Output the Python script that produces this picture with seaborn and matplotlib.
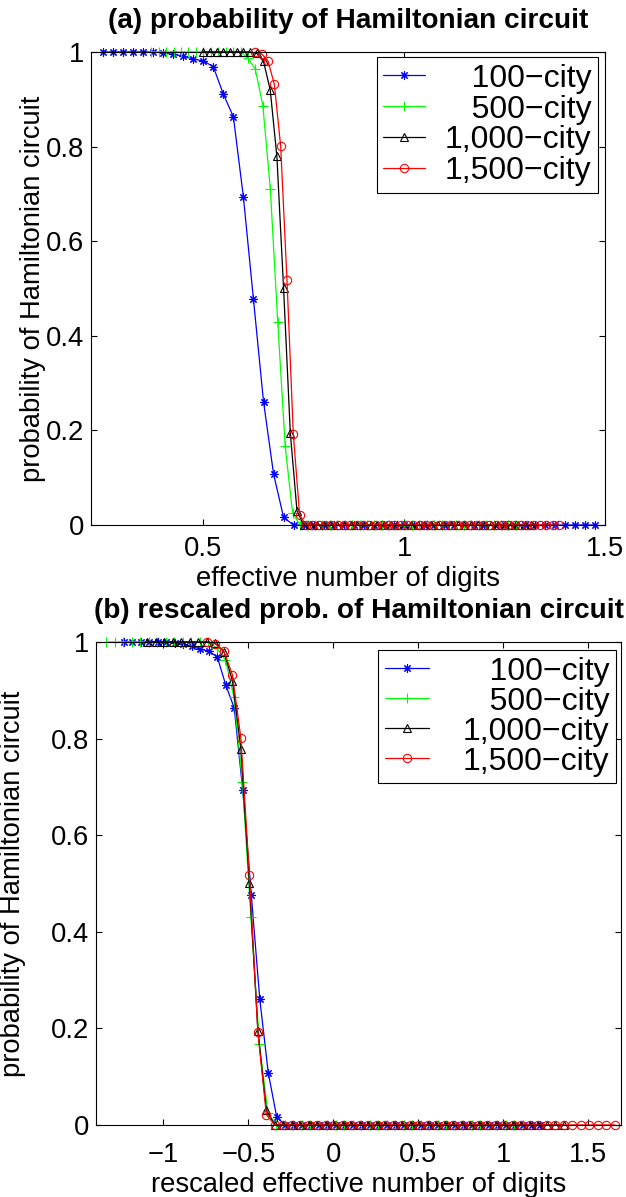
import matplotlib
matplotlib.use('Agg')
import matplotlib.pyplot as plt
import seaborn as sns

# ---- data ----
# 100-city
x100_a = [0.25, 0.275, 0.3, 0.325, 0.35, 0.375, 0.4, 0.425, 0.45, 0.475,
          0.5, 0.525, 0.55, 0.575, 0.6, 0.625, 0.65, 0.675, 0.7, 0.725,
          0.75, 0.775, 0.8, 0.825, 0.85, 0.875, 0.9, 0.925, 0.95, 0.975,
          1.0, 1.025, 1.05, 1.075, 1.1, 1.125, 1.15, 1.175, 1.2, 1.225,
          1.25, 1.275, 1.3, 1.325, 1.35, 1.375, 1.4, 1.425, 1.45, 1.475]
x100_b = [-1.233, -1.183, -1.133, -1.083, -1.033, -0.983, -0.933, -0.883, -0.833, -0.783,
          -0.733, -0.683, -0.633, -0.583, -0.533, -0.483, -0.433, -0.383, -0.333, -0.283,
          -0.233, -0.183, -0.133, -0.083, -0.033, 0.017, 0.067, 0.117, 0.167, 0.217,
          0.267, 0.317, 0.367, 0.417, 0.467, 0.517, 0.567, 0.617, 0.667, 0.717,
          0.767, 0.817, 0.867, 0.917, 0.967, 1.017, 1.067, 1.117, 1.167, 1.217]
p100 = ([1.0] * 6
        + [0.998, 0.995, 0.991, 0.985, 0.981, 0.969, 0.911, 0.863, 0.693,
           0.477, 0.261, 0.108, 0.016]
        + [0.0] * 31)

# 500-city
x500_a = [0.3705, 0.3890, 0.4076, 0.4261, 0.4446, 0.4631, 0.4817, 0.5002, 0.5187, 0.5372,
          0.5558, 0.5743, 0.5928, 0.6113, 0.6298, 0.6484, 0.6669, 0.6854, 0.7039, 0.7225,
          0.7410, 0.7595, 0.7780, 0.7966, 0.8151, 0.8336, 0.8521, 0.8707, 0.8892, 0.9077,
          0.9262, 0.9448, 0.9633, 0.9818, 1.0003, 1.0189, 1.0374, 1.0559, 1.0744, 1.0930,
          1.1115, 1.1300, 1.1485, 1.1671, 1.1856, 1.2041, 1.2226, 1.2412, 1.2597, 1.2782]
x500_b = [-1.335, -1.285, -1.235, -1.185, -1.135, -1.085, -1.035, -0.985, -0.935, -0.885,
          -0.835, -0.785, -0.735, -0.685, -0.635, -0.585, -0.535, -0.485, -0.435, -0.385,
          -0.335, -0.285, -0.235, -0.185, -0.135, -0.085, -0.035, 0.015, 0.065, 0.115,
          0.165, 0.215, 0.265, 0.315, 0.365, 0.415, 0.465, 0.515, 0.565, 0.615,
          0.665, 0.715, 0.765, 0.815, 0.865, 0.915, 0.965, 1.015, 1.065, 1.115]
p500 = ([1.0] * 13
        + [0.987, 0.963, 0.886, 0.711, 0.430, 0.167, 0.025]
        + [0.0] * 30)

# 1,000-city
x1000_a = [0.5, 0.5167, 0.5333, 0.55, 0.5667, 0.5833, 0.6, 0.6167, 0.6333, 0.65,
           0.6667, 0.6833, 0.7, 0.7167, 0.7333, 0.75, 0.7667, 0.7833, 0.8, 0.8167,
           0.8333, 0.85, 0.8667, 0.8833, 0.9, 0.9167, 0.9333, 0.95, 0.9667, 0.9833,
           1.0, 1.0167, 1.0333, 1.05, 1.0667, 1.0833, 1.1, 1.1167, 1.1333, 1.15,
           1.1667, 1.1833, 1.2, 1.2167, 1.2333, 1.25, 1.2667, 1.2833, 1.3, 1.3167]
x1000_b = [-1.094, -1.044, -0.994, -0.944, -0.894, -0.844, -0.794, -0.744, -0.694, -0.644,
           -0.594, -0.544, -0.494, -0.444, -0.394, -0.344, -0.294, -0.244, -0.194, -0.144,
           -0.094, -0.044, 0.006, 0.056, 0.106, 0.156, 0.206, 0.256, 0.306, 0.356,
           0.406, 0.456, 0.506, 0.556, 0.606, 0.656, 0.706, 0.756, 0.806, 0.856,
           0.906, 0.956, 1.006, 1.056, 1.106, 1.156, 1.206, 1.256, 1.306, 1.356]
p1000 = ([1.0] * 8
         + [0.997, 0.980, 0.920, 0.779, 0.500, 0.195, 0.030]
         + [0.0] * 35)

# 1,500-city
x1500_a = [0.6297, 0.6454, 0.6612, 0.6769, 0.6927, 0.7084, 0.7242, 0.7399, 0.7556, 0.7714,
           0.7871, 0.8029, 0.8186, 0.8344, 0.8501, 0.8658, 0.8816, 0.8973, 0.9131, 0.9288,
           0.9446, 0.9603, 0.9760, 0.9918, 1.0075, 1.0233, 1.0390, 1.0548, 1.0705, 1.0862,
           1.1020, 1.1177, 1.1335, 1.1492, 1.1650, 1.1807, 1.1964, 1.2122, 1.2279, 1.2437,
           1.2594, 1.2752, 1.2909, 1.3066, 1.3224, 1.3381, 1.3539, 1.3696, 1.3854]
x1500_b = [-0.744, -0.694, -0.644, -0.594, -0.544, -0.494, -0.444, -0.394, -0.344, -0.294,
           -0.244, -0.194, -0.144, -0.094, -0.044, 0.006, 0.056, 0.106, 0.156, 0.206,
           0.256, 0.306, 0.356, 0.406, 0.456, 0.506, 0.556, 0.606, 0.656, 0.706,
           0.756, 0.806, 0.856, 0.906, 0.956, 1.006, 1.056, 1.106, 1.156, 1.206,
           1.256, 1.306, 1.356, 1.406, 1.456, 1.506, 1.556, 1.606, 1.656]
p1500 = ([1.0, 0.996, 0.981, 0.932, 0.801, 0.518, 0.192, 0.021]
         + [0.0] * 41)

labels = ['   100\u2212city', '   500\u2212city', '1,000\u2212city', '1,500\u2212city']
colors = ['#0000ff', '#00ff00', '#000000', '#ff0000']
markers = [(8, 2, 0), '+', '^', 'o']
msizes = [6, 6.5, 6, 6]
fills = ['full', 'full', 'none', 'none']

y_ticks = [0, 0.2, 0.4, 0.6, 0.8, 1]
y_ticklabels = ['0', '0.2', '0.4', '0.6', '0.8', '1']
xa_ticks = [0.5, 1, 1.5]
xa_ticklabels = ['0.5', '1', '1.5']
xb_ticks = [-1, -0.5, 0, 0.5, 1, 1.5]
xb_ticklabels = ['\u22121', '\u22120.5', '0', '0.5', '1', '1.5']

# ---- style ----
sns.set_style('ticks')
plt.rcParams['font.family'] = ['Liberation Sans', 'DejaVu Sans']
plt.rcParams.update({
    'xtick.direction': 'in', 'ytick.direction': 'in',
    'xtick.top': True, 'ytick.right': True,
    'axes.edgecolor': 'black', 'axes.linewidth': 0.8,
    'xtick.color': 'black', 'ytick.color': 'black',
    'text.color': 'black', 'axes.labelcolor': 'black',
})
FS = 19.7
FS_TITLE = 20.2
FS_LEG = 23

fig = plt.figure(figsize=(6.26, 11.97), dpi=100)
ax1 = fig.add_axes([0.1454, 0.5614, 0.8211, 0.3952])
ax2 = fig.add_axes([0.1534, 0.0602, 0.8387, 0.4035])

xa = [x100_a, x500_a, x1000_a, x1500_a]
xb = [x100_b, x500_b, x1000_b, x1500_b]
ps = [p100, p500, p1000, p1500]

for ax, xs in [(ax1, xa), (ax2, xb)]:
    for i in range(4):
        mfc = colors[i] if fills[i] == 'full' else 'none'
        sns.lineplot(x=xs[i], y=ps[i], ax=ax, color=colors[i], marker=markers[i],
                     markersize=msizes[i], markerfacecolor=mfc,
                     markeredgecolor=colors[i], markeredgewidth=0.8,
                     linewidth=0.9, label=labels[i], clip_on=False,
                     estimator=None, sort=False)
    ax.set_ylim(0, 1)
    ax.set_yticks(y_ticks)
    ax.set_yticklabels(y_ticklabels)
    ax.tick_params(axis='both', which='major', labelsize=FS, length=4, width=0.8)
    ax.tick_params(axis='y', pad=5)
    ax.set_ylabel('probability of Hamiltonian circuit', fontsize=FS)
    for s in ax.spines.values():
        s.set_visible(True)

ax1.set_xlim(0.2207, 1.5)
ax1.set_xticks(xa_ticks)
ax1.set_xticklabels(xa_ticklabels)
ax1.tick_params(axis='x', pad=8)
ax1.set_xlabel('effective number of digits', fontsize=FS, labelpad=3)
ax1.set_title('(a) probability of Hamiltonian circuit', fontsize=FS_TITLE,
              fontweight='bold', pad=17)
ax1.yaxis.set_label_coords(-0.088, 0.5)

ax2.set_xlim(-1.396, 1.692)
ax2.set_xticks(xb_ticks)
ax2.set_xticklabels(xb_ticklabels)
ax2.tick_params(axis='x', pad=12)
ax2.set_xlabel('rescaled effective number of digits', fontsize=FS, labelpad=3)
ax2.set_title('(b) rescaled prob. of Hamiltonian circuit', fontsize=FS_TITLE,
              fontweight='bold', pad=17)
ax2.yaxis.set_label_coords(-0.133, 0.5)

# legend boxes: (a) 378-598 px wide, (b) 378-616 px wide
leg_opts = [(ax1, (0.986, 0.989), 1.3, 0.62, 0.03),
            (ax2, (0.990, 0.983), 1.4, 1.05, 0.0)]
for ax, anchor, hl, htp, ls in leg_opts:
    leg = ax.legend(loc='upper right', bbox_to_anchor=anchor, borderaxespad=0,
                    frameon=True, fancybox=False, edgecolor='black',
                    fontsize=FS_LEG, handlelength=hl, handletextpad=htp,
                    labelspacing=ls, borderpad=0.2)
    leg.get_frame().set_linewidth(0.8)
    leg.get_frame().set_facecolor('white')
    leg.get_frame().set_alpha(1)

fig.savefig('out.png', dpi=100, facecolor='white')
